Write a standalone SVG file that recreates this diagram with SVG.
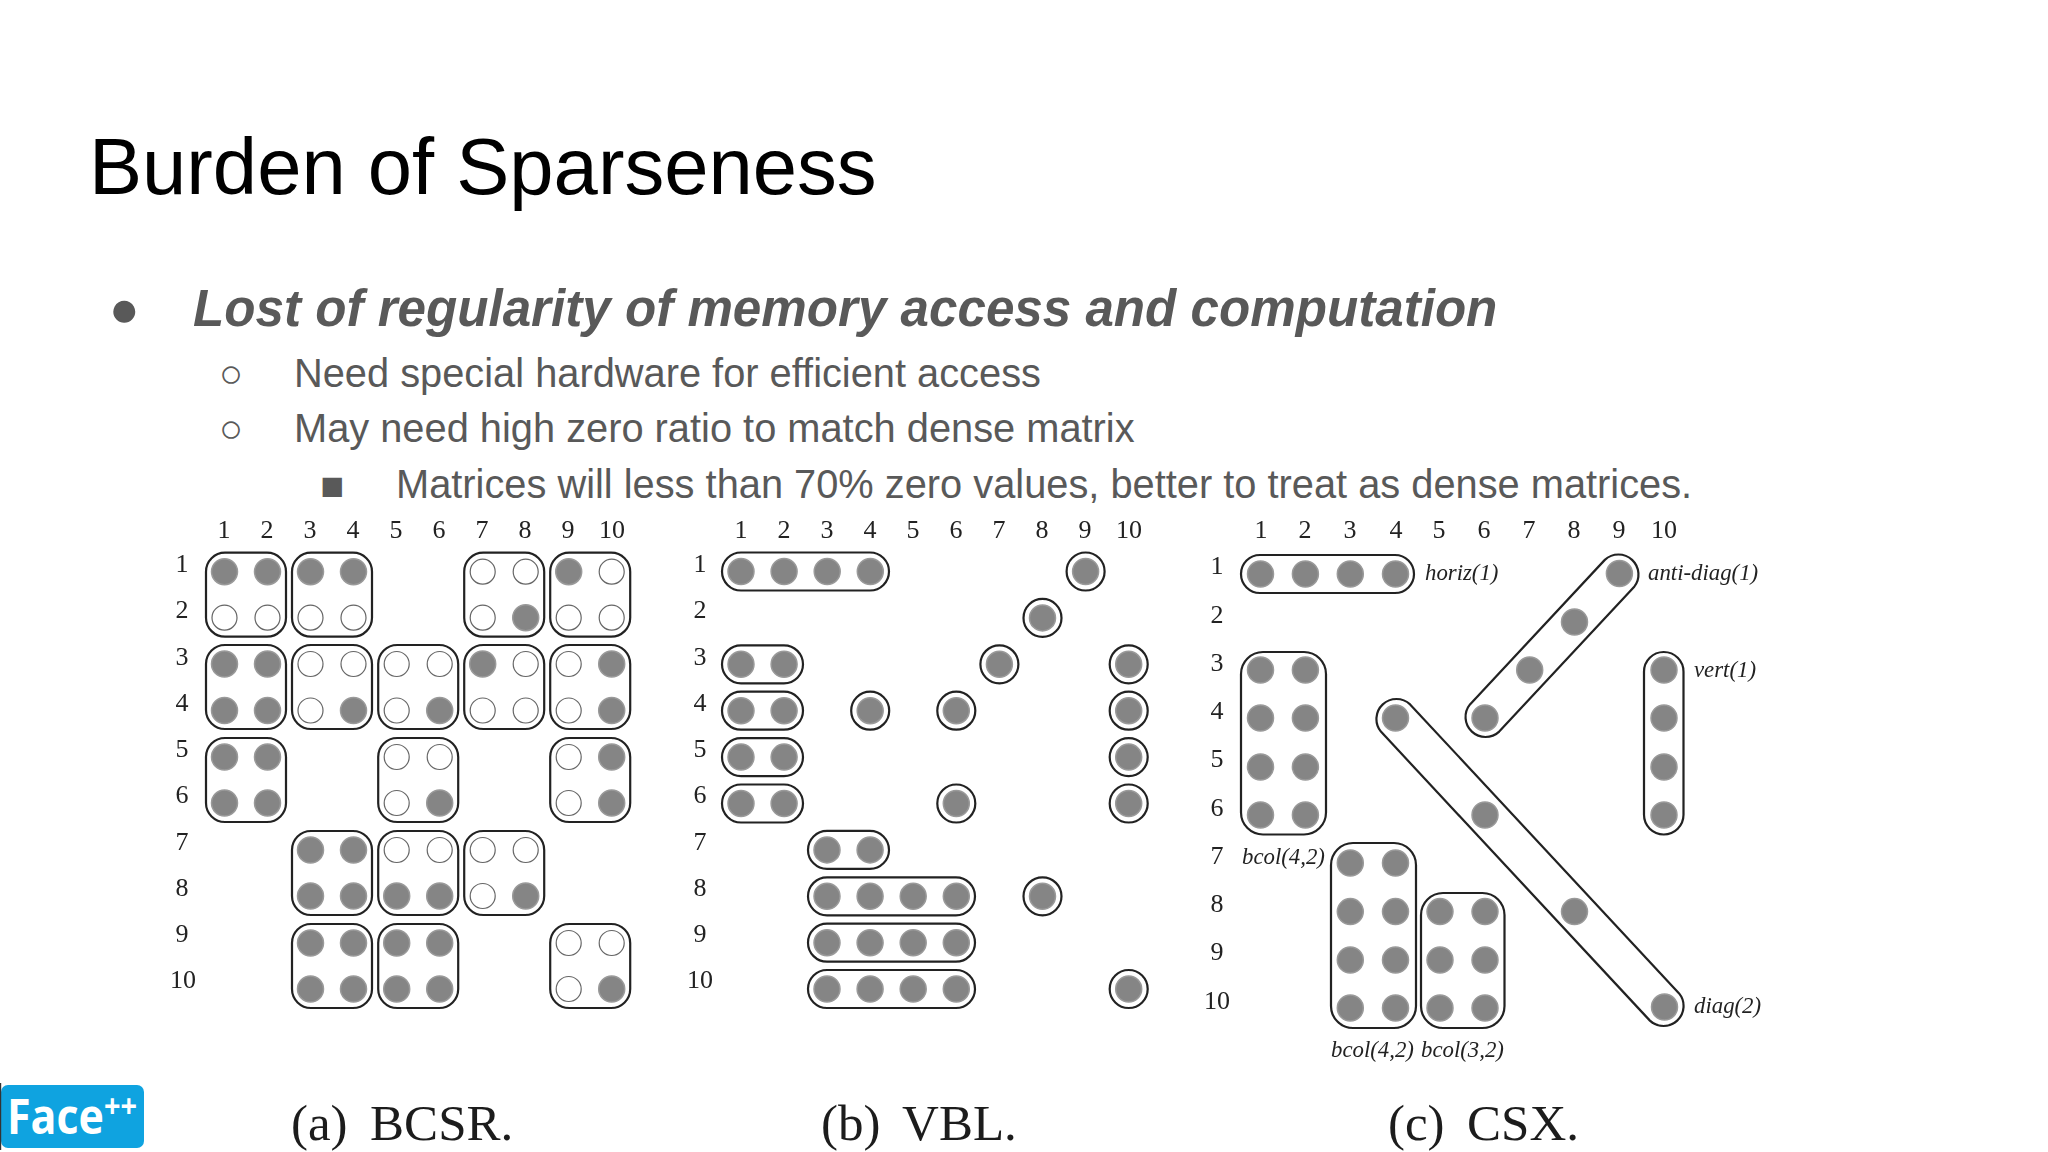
<svg xmlns="http://www.w3.org/2000/svg" width="2048" height="1152" viewBox="0 0 2048 1152">
<style>
.s{font-family:"Liberation Sans",Arial,sans-serif}
.t{font-family:"Liberation Serif","Times New Roman",serif;fill:#222;font-size:26px;text-anchor:middle}
.i{font-family:"Liberation Serif","Times New Roman",serif;fill:#222;font-size:22.8px;font-style:italic}
.c{font-family:"Liberation Serif","Times New Roman",serif;fill:#1c1c1c;font-size:51px;word-spacing:-1.5px}
.l{fill:#595959;font-size:51.15px}
.m{fill:#595959;font-size:39.8px}
.b{fill:none;stroke:#222;stroke-width:2.2}
.fig{filter:url(#soft)}
</style>
<defs>
<filter id="soft" x="-2%" y="-2%" width="104%" height="104%"><feGaussianBlur stdDeviation="0.6"/></filter>
<circle id="F" r="13" fill="#858585" stroke="#9a9a9a" stroke-width="1.5"/>
<circle id="E" r="12.5" fill="#fff" stroke="#666" stroke-width="1.2"/>
<rect id="B" x="-18.5" y="-19" width="80" height="84" rx="19" class="b"/>
<rect id="P4" x="-19" y="-19" width="167" height="38" rx="19" class="b"/>
<rect id="P2" x="-19" y="-19" width="81" height="38" rx="19" class="b"/>
<circle id="S" r="19" class="b"/>
</defs>
<rect width="2048" height="1152" fill="#fff"/>
<text id="title" class="s" x="89" y="194" font-size="79.6" fill="#000">Burden of Sparseness</text>
<g id="bullets" class="s">
<text class="m" x="109" y="326" style="font-size:51px">●</text>
<text class="l" x="193" y="326" font-weight="bold" font-style="italic">Lost of regularity of memory access and computation</text>
<text class="m" x="219" y="387">○</text>
<text class="m" x="294" y="387">Need special hardware for efficient access</text>
<text class="m" x="219" y="442">○</text>
<text class="m" x="294" y="442">May need high zero ratio to match dense matrix</text>
<text class="m" x="320" y="499">■</text>
<text class="m" x="396" y="498">Matrices will less than 70% zero values, better to treat as dense matrices.</text>
</g>
<g id="panel-a" class="fig">
<g id="a-labels" class="t">
<text x="224" y="538">1</text><text x="267" y="538">2</text><text x="310" y="538">3</text><text x="353" y="538">4</text><text x="396" y="538">5</text><text x="439" y="538">6</text><text x="482" y="538">7</text><text x="525" y="538">8</text><text x="568" y="538">9</text><text x="612" y="538">10</text>
<text x="182" y="572">1</text><text x="182" y="618">2</text><text x="182" y="665">3</text><text x="182" y="711">4</text><text x="182" y="757">5</text><text x="182" y="803">6</text><text x="182" y="850">7</text><text x="182" y="896">8</text><text x="182" y="942">9</text><text x="183" y="988">10</text>
</g>
<g id="a-r1c1" transform="translate(224.5 571.7)"><use href="#B"/><use href="#F"/><use href="#F" x="43"/><use href="#E" y="46"/><use href="#E" x="43" y="46"/></g>
<g id="a-r1c3" transform="translate(310.5 571.7)"><use href="#B"/><use href="#F"/><use href="#F" x="43"/><use href="#E" y="46"/><use href="#E" x="43" y="46"/></g>
<g id="a-r1c7" transform="translate(482.7 571.7)"><use href="#B"/><use href="#E"/><use href="#E" x="43"/><use href="#E" y="46"/><use href="#F" x="43" y="46"/></g>
<g id="a-r1c9" transform="translate(568.7 571.7)"><use href="#B"/><use href="#F"/><use href="#E" x="43"/><use href="#E" y="46"/><use href="#E" x="43" y="46"/></g>
<g id="a-r3c1" transform="translate(224.5 664)"><use href="#B"/><use href="#F"/><use href="#F" x="43"/><use href="#F" y="46.5"/><use href="#F" x="43" y="46.5"/></g>
<g id="a-r3c3" transform="translate(310.5 664)"><use href="#B"/><use href="#E"/><use href="#E" x="43"/><use href="#E" y="46.5"/><use href="#F" x="43" y="46.5"/></g>
<g id="a-r3c5" transform="translate(396.7 664)"><use href="#B"/><use href="#E"/><use href="#E" x="43"/><use href="#E" y="46.5"/><use href="#F" x="43" y="46.5"/></g>
<g id="a-r3c7" transform="translate(482.7 664)"><use href="#B"/><use href="#F"/><use href="#E" x="43"/><use href="#E" y="46.5"/><use href="#E" x="43" y="46.5"/></g>
<g id="a-r3c9" transform="translate(568.7 664)"><use href="#B"/><use href="#E"/><use href="#F" x="43"/><use href="#E" y="46.5"/><use href="#F" x="43" y="46.5"/></g>
<g id="a-r5c1" transform="translate(224.5 757)"><use href="#B"/><use href="#F"/><use href="#F" x="43"/><use href="#F" y="46"/><use href="#F" x="43" y="46"/></g>
<g id="a-r5c5" transform="translate(396.7 757)"><use href="#B"/><use href="#E"/><use href="#E" x="43"/><use href="#E" y="46"/><use href="#F" x="43" y="46"/></g>
<g id="a-r5c9" transform="translate(568.7 757)"><use href="#B"/><use href="#E"/><use href="#F" x="43"/><use href="#E" y="46"/><use href="#F" x="43" y="46"/></g>
<g id="a-r7c3" transform="translate(310.5 850)"><use href="#B"/><use href="#F"/><use href="#F" x="43"/><use href="#F" y="46"/><use href="#F" x="43" y="46"/></g>
<g id="a-r7c5" transform="translate(396.7 850)"><use href="#B"/><use href="#E"/><use href="#E" x="43"/><use href="#F" y="46"/><use href="#F" x="43" y="46"/></g>
<g id="a-r7c7" transform="translate(482.7 850)"><use href="#B"/><use href="#E"/><use href="#E" x="43"/><use href="#E" y="46"/><use href="#F" x="43" y="46"/></g>
<g id="a-r9c3" transform="translate(310.5 943)"><use href="#B"/><use href="#F"/><use href="#F" x="43"/><use href="#F" y="46"/><use href="#F" x="43" y="46"/></g>
<g id="a-r9c5" transform="translate(396.7 943)"><use href="#B"/><use href="#F"/><use href="#F" x="43"/><use href="#F" y="46"/><use href="#F" x="43" y="46"/></g>
<g id="a-r9c9" transform="translate(568.7 943)"><use href="#B"/><use href="#E"/><use href="#E" x="43"/><use href="#E" y="46"/><use href="#F" x="43" y="46"/></g>
<text class="c" x="291" y="1140" xml:space="preserve">(a)  BCSR.</text>
</g>
<g id="panel-b" class="fig">
<g id="b-labels" class="t">
<text x="741" y="538">1</text><text x="784" y="538">2</text><text x="827" y="538">3</text><text x="870" y="538">4</text><text x="913" y="538">5</text><text x="956" y="538">6</text><text x="999" y="538">7</text><text x="1042" y="538">8</text><text x="1085" y="538">9</text><text x="1129" y="538">10</text>
<text x="700" y="572">1</text><text x="700" y="618">2</text><text x="700" y="665">3</text><text x="700" y="711">4</text><text x="700" y="757">5</text><text x="700" y="803">6</text><text x="700" y="850">7</text><text x="700" y="896">8</text><text x="700" y="942">9</text><text x="700" y="988">10</text>
</g>
<g id="b-r1" transform="translate(741 571.5)"><use href="#P4"/><use href="#F"/><use href="#F" x="43.1"/><use href="#F" x="86.2"/><use href="#F" x="129.3"/></g>
<g id="b-r3" transform="translate(741 664.3)"><use href="#P2"/><use href="#F"/><use href="#F" x="43.1"/></g>
<g id="b-r4" transform="translate(741 710.7)"><use href="#P2"/><use href="#F"/><use href="#F" x="43.1"/></g>
<g id="b-r5" transform="translate(741 757.1)"><use href="#P2"/><use href="#F"/><use href="#F" x="43.1"/></g>
<g id="b-r6" transform="translate(741 803.5)"><use href="#P2"/><use href="#F"/><use href="#F" x="43.1"/></g>
<g id="b-r7" transform="translate(827 849.9)"><use href="#P2"/><use href="#F"/><use href="#F" x="43.1"/></g>
<g id="b-r8" transform="translate(827 896.3)"><use href="#P4"/><use href="#F"/><use href="#F" x="43.1"/><use href="#F" x="86.2"/><use href="#F" x="129.3"/></g>
<g id="b-r9" transform="translate(827 942.7)"><use href="#P4"/><use href="#F"/><use href="#F" x="43.1"/><use href="#F" x="86.2"/><use href="#F" x="129.3"/></g>
<g id="b-r10" transform="translate(827 989)"><use href="#P4"/><use href="#F"/><use href="#F" x="43.1"/><use href="#F" x="86.2"/><use href="#F" x="129.3"/></g>
<g id="b-s1" transform="translate(1085.6 571.5)"><use href="#S"/><use href="#F"/></g>
<g id="b-s2" transform="translate(1042.5 617.9)"><use href="#S"/><use href="#F"/></g>
<g id="b-s3" transform="translate(999.4 664.3)"><use href="#S"/><use href="#F"/></g>
<g id="b-s4" transform="translate(1128.7 664.3)"><use href="#S"/><use href="#F"/></g>
<g id="b-s5" transform="translate(870.2 710.7)"><use href="#S"/><use href="#F"/></g>
<g id="b-s6" transform="translate(956.3 710.7)"><use href="#S"/><use href="#F"/></g>
<g id="b-s7" transform="translate(1128.7 710.7)"><use href="#S"/><use href="#F"/></g>
<g id="b-s8" transform="translate(1128.7 757.1)"><use href="#S"/><use href="#F"/></g>
<g id="b-s9" transform="translate(956.3 803.5)"><use href="#S"/><use href="#F"/></g>
<g id="b-s10" transform="translate(1128.7 803.5)"><use href="#S"/><use href="#F"/></g>
<g id="b-s11" transform="translate(1042.5 896.3)"><use href="#S"/><use href="#F"/></g>
<g id="b-s12" transform="translate(1128.7 989)"><use href="#S"/><use href="#F"/></g>
<text class="c" x="821" y="1140" xml:space="preserve">(b)  VBL.</text>
</g>
<g id="panel-c" class="fig">
<g id="c-labels" class="t">
<text x="1261" y="538">1</text><text x="1305" y="538">2</text><text x="1350" y="538">3</text><text x="1396" y="538">4</text><text x="1439" y="538">5</text><text x="1484" y="538">6</text><text x="1529" y="538">7</text><text x="1574" y="538">8</text><text x="1619" y="538">9</text><text x="1664" y="538">10</text>
<text x="1217" y="574">1</text><text x="1217" y="623">2</text><text x="1217" y="671">3</text><text x="1217" y="719">4</text><text x="1217" y="767">5</text><text x="1217" y="816">6</text><text x="1217" y="864">7</text><text x="1217" y="912">8</text><text x="1217" y="960">9</text><text x="1217" y="1009">10</text>
</g>
<g id="c-horiz"><rect class="b" x="1241" y="555" width="173" height="38" rx="19"/><use href="#F" x="1260.5" y="574"/><use href="#F" x="1305.4" y="574"/><use href="#F" x="1350.3" y="574"/><use href="#F" x="1395.5" y="574"/><text class="i" x="1425" y="580">horiz(1)</text></g>
<g id="c-anti"><path class="b" d="M1499.2 731.6 L1634 587.1 A20 20 0 0 0 1604.8 559.9 L1470 704.4 A20 20 0 0 0 1499.2 731.6 Z"/><use href="#F" x="1485" y="718"/><use href="#F" x="1529.7" y="670"/><use href="#F" x="1574.5" y="622"/><use href="#F" x="1619.4" y="573.5"/><text class="i" x="1648" y="580">anti-diag(1)</text></g>
<g id="c-block1"><rect class="b" x="1241" y="652" width="85" height="182.5" rx="22"/><use href="#F" x="1260.5" y="670"/><use href="#F" x="1305.4" y="670"/><use href="#F" x="1260.5" y="718"/><use href="#F" x="1305.4" y="718"/><use href="#F" x="1260.5" y="767"/><use href="#F" x="1305.4" y="767"/><use href="#F" x="1260.5" y="815"/><use href="#F" x="1305.4" y="815"/></g>
<g id="c-vert"><rect class="b" x="1644" y="652" width="39.5" height="182.5" rx="19.7"/><use href="#F" x="1664" y="670"/><use href="#F" x="1664" y="718"/><use href="#F" x="1664" y="767"/><use href="#F" x="1664" y="815"/><text class="i" x="1694" y="677">vert(1)</text></g>
<g id="c-diag"><path class="b" d="M1410.1 704.4 L1679.1 993.4 A20 20 0 0 1 1649.9 1020.6 L1380.9 731.6 A20 20 0 0 1 1410.1 704.4 Z"/><use href="#F" x="1395.5" y="718"/><use href="#F" x="1485" y="815"/><use href="#F" x="1574.5" y="911.6"/><use href="#F" x="1664.5" y="1007"/><text class="i" x="1694" y="1013">diag(2)</text></g>
<g id="c-block2"><rect class="b" x="1331" y="843" width="85" height="185" rx="22"/><use href="#F" x="1350.3" y="863"/><use href="#F" x="1395.5" y="863"/><use href="#F" x="1350.3" y="911.6"/><use href="#F" x="1395.5" y="911.6"/><use href="#F" x="1350.3" y="960"/><use href="#F" x="1395.5" y="960"/><use href="#F" x="1350.3" y="1008"/><use href="#F" x="1395.5" y="1008"/><text class="i" x="1242" y="864">bcol(4,2)</text><text class="i" x="1331" y="1057">bcol(4,2)</text></g>
<g id="c-block3"><rect class="b" x="1421" y="893" width="83.5" height="135" rx="22"/><use href="#F" x="1440" y="911.6"/><use href="#F" x="1485" y="911.6"/><use href="#F" x="1440" y="960"/><use href="#F" x="1485" y="960"/><use href="#F" x="1440" y="1008"/><use href="#F" x="1485" y="1008"/><text class="i" x="1421" y="1057">bcol(3,2)</text></g>
<text class="c" x="1388" y="1140" xml:space="preserve">(c)  CSX.</text>
</g>
<g id="logo">
<rect x="1" y="1085" width="143" height="63" rx="7" fill="#0fa3e0"/>
<rect x="0" y="1083" width="1.2" height="67" fill="#333"/>
<text x="7" y="1134" font-family="'Open Sans','Liberation Sans',sans-serif" font-size="49" font-weight="700" fill="#fff" textLength="130" lengthAdjust="spacingAndGlyphs">Face<tspan dy="-16" font-size="33">++</tspan></text>
</g>
</svg>
